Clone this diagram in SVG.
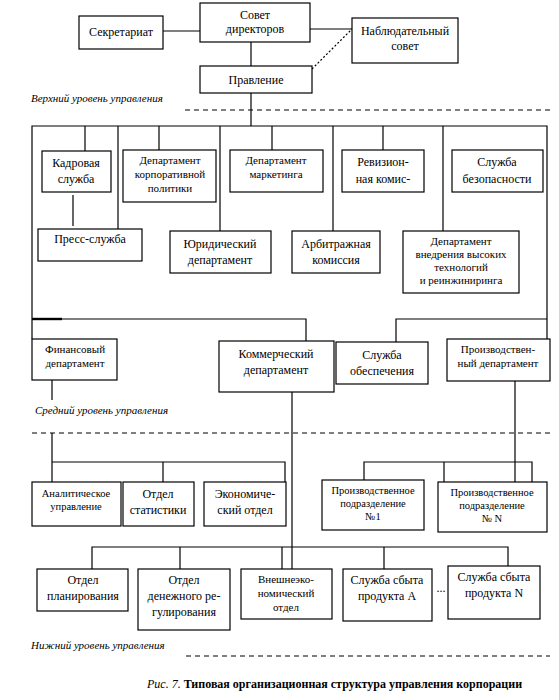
<svg xmlns="http://www.w3.org/2000/svg" width="559" height="700" viewBox="0 0 559 700">
<style>
rect{fill:#fff;stroke:#000;stroke-width:1.2}
text{font-family:"Liberation Serif","Times New Roman",serif;font-size:12px;text-anchor:middle;fill:#000}
.s{font-size:11px}
.xs{font-size:10.5px}
.i{font-style:italic;text-anchor:start;font-size:11px}
.c line,.c path{stroke:#000;stroke-width:1.2;fill:none}
.d{stroke-dasharray:5 4}
</style>
<rect x="0" y="0" width="559" height="700" style="fill:#fff;stroke:none"/>
<g class="c" id="connectors">
<line x1="163" y1="31" x2="200" y2="31"/>
<line x1="310" y1="29" x2="352" y2="29"/>
<line x1="251" y1="42" x2="251" y2="66"/>
<line x1="312" y1="69" x2="352" y2="29" style="stroke-dasharray:2 2"/>
<line x1="251" y1="93" x2="251" y2="126"/>
<line x1="185" y1="110" x2="550" y2="110" class="d"/>
<path d="M32 339V126H547V339"/>
<line x1="85" y1="126" x2="85" y2="151"/>
<line x1="159" y1="126" x2="159" y2="150"/>
<line x1="272" y1="126" x2="272" y2="150"/>
<line x1="383" y1="126" x2="383" y2="150"/>
<line x1="73" y1="195" x2="73" y2="226"/>
<line x1="118" y1="126" x2="118" y2="229"/>
<line x1="220" y1="126" x2="220" y2="231"/>
<line x1="333" y1="126" x2="333" y2="231"/>
<line x1="443" y1="126" x2="443" y2="231"/>
<path d="M32 319H306V341"/>
<line x1="32" y1="319" x2="62" y2="319" style="stroke-width:2.4"/>
<path d="M547 319H396V342"/>
<line x1="52" y1="380" x2="52" y2="400"/>
<line x1="32" y1="433" x2="550" y2="433" class="d"/>
<path d="M52 433V482"/>
<path d="M52 462H285V482"/>
<line x1="163" y1="462" x2="163" y2="482"/>
<line x1="292" y1="392" x2="292" y2="569"/>
<line x1="515" y1="381" x2="515" y2="482"/>
<path d="M364 480V462H532V482"/>
<line x1="444" y1="462" x2="444" y2="482"/>
<path d="M92 569V547H508V566"/>
<line x1="180" y1="547" x2="180" y2="569"/>
<line x1="282" y1="547" x2="282" y2="569"/>
<line x1="384" y1="547" x2="384" y2="569"/>
<line x1="186" y1="656" x2="550" y2="656" class="d"/>
</g>
<g id="secretariat"><rect x="79" y="16" width="84" height="33"/><text x="121" y="36">Секретариат</text></g>
<g id="board"><rect x="200" y="3" width="110" height="39"/><text x="255" y="19">Совет</text><text x="255" y="33">директоров</text></g>
<g id="supervisory"><rect x="352" y="18" width="106" height="45"/><text x="405" y="35">Наблюдательный</text><text x="405" y="50">совет</text></g>
<g id="management"><rect x="200" y="66" width="112" height="27"/><text x="256" y="84">Правление</text></g>
<text class="i" x="31" y="102">Верхний уровень управления</text>
<g id="hr"><rect x="42" y="151" width="69" height="41"/><text x="76" y="167">Кадровая</text><text x="76" y="183">служба</text></g>
<g id="corp"><rect x="123" y="150" width="93" height="52"/><text class="s" x="170" y="164">Департамент</text><text class="s" x="170" y="178">корпоративной</text><text class="s" x="170" y="192">политики</text></g>
<g id="marketing"><rect x="230" y="150" width="93" height="42"/><text class="s" x="276" y="164">Департамент</text><text class="s" x="276" y="178">маркетинга</text></g>
<g id="audit"><rect x="342" y="150" width="82" height="42"/><text x="383" y="166">Ревизион-</text><text x="383" y="183">ная комис-</text></g>
<g id="security"><rect x="452" y="150" width="91" height="42"/><text x="497" y="166">Служба</text><text x="497" y="183">безопасности</text></g>
<g id="press"><rect x="38" y="229" width="104" height="32"/><text x="90" y="243">Пресс-служба</text></g>
<g id="legal"><rect x="170" y="231" width="101" height="42"/><text x="220" y="248">Юридический</text><text x="220" y="264">департамент</text></g>
<g id="arbitr"><rect x="292" y="231" width="88" height="42"/><text x="336" y="248">Арбитражная</text><text x="336" y="264">комиссия</text></g>
<g id="hightech"><rect x="403" y="231" width="116" height="62"/><text class="s" x="461" y="245">Департамент</text><text class="s" x="461" y="258">внедрения высоких</text><text class="s" x="461" y="271">технологий</text><text class="s" x="461" y="284">и реинжиниринга</text></g>
<g id="finance"><rect x="32" y="339" width="85" height="41"/><text class="s" x="75" y="353">Финансовый</text><text class="s" x="75" y="367">департамент</text></g>
<g id="commercial"><rect x="219" y="341" width="115" height="51"/><text x="276" y="358">Коммерческий</text><text x="276" y="374">департамент</text></g>
<g id="supply"><rect x="336" y="342" width="92" height="42"/><text x="382" y="359">Служба</text><text x="382" y="375">обеспечения</text></g>
<g id="production"><rect x="447" y="339" width="103" height="42"/><text class="s" x="498" y="353">Производствен-</text><text class="s" x="498" y="367">ный департамент</text></g>
<text class="i" x="35" y="414">Средний уровень управления</text>
<g id="analytic"><rect x="32" y="482" width="89" height="44"/><text class="xs" x="76" y="497">Аналитическое</text><text class="xs" x="76" y="510">управление</text></g>
<g id="stat"><rect x="123" y="482" width="71" height="44"/><text x="158" y="498">Отдел</text><text x="158" y="514">статистики</text></g>
<g id="econ"><rect x="204" y="482" width="82" height="44"/><text x="245" y="498">Экономиче-</text><text x="245" y="514">ский отдел</text></g>
<g id="prod1"><rect x="322" y="480" width="102" height="50"/><text class="xs" x="373" y="494">Производственное</text><text class="xs" x="373" y="507">подразделение</text><text class="xs" x="373" y="520">№1</text></g>
<g id="prodN"><rect x="438" y="482" width="109" height="50"/><text class="xs" x="492" y="496">Производственное</text><text class="xs" x="492" y="509">подразделение</text><text class="xs" x="492" y="522">№ N</text></g>
<g id="planning"><rect x="37" y="569" width="91" height="42"/><text x="83" y="584">Отдел</text><text x="83" y="600">планирования</text></g>
<g id="money"><rect x="138" y="569" width="92" height="61"/><text x="184" y="584">Отдел</text><text x="184" y="600">денежного ре-</text><text x="184" y="616">гулирования</text></g>
<g id="foreign"><rect x="241" y="569" width="91" height="50"/><text class="s" x="286" y="583">Внешнеэко-</text><text class="s" x="286" y="597">номический</text><text class="s" x="286" y="611">отдел</text></g>
<g id="salesA"><rect x="343" y="569" width="89" height="52"/><text x="387" y="584">Служба сбыта</text><text x="387" y="600">продукта А</text></g>
<text x="441" y="592">...</text>
<g id="salesN"><rect x="448" y="566" width="92" height="53"/><text x="494" y="581">Служба сбыта</text><text x="494" y="597">продукта N</text></g>
<text class="i" x="31" y="649">Нижний уровень управления</text>
<text x="147" y="688" style="font-size:12px;text-anchor:start"><tspan style="font-style:italic">Рис. 7.</tspan> <tspan style="font-weight:bold">Типовая организационная структура управления корпорации</tspan></text>
</svg>
